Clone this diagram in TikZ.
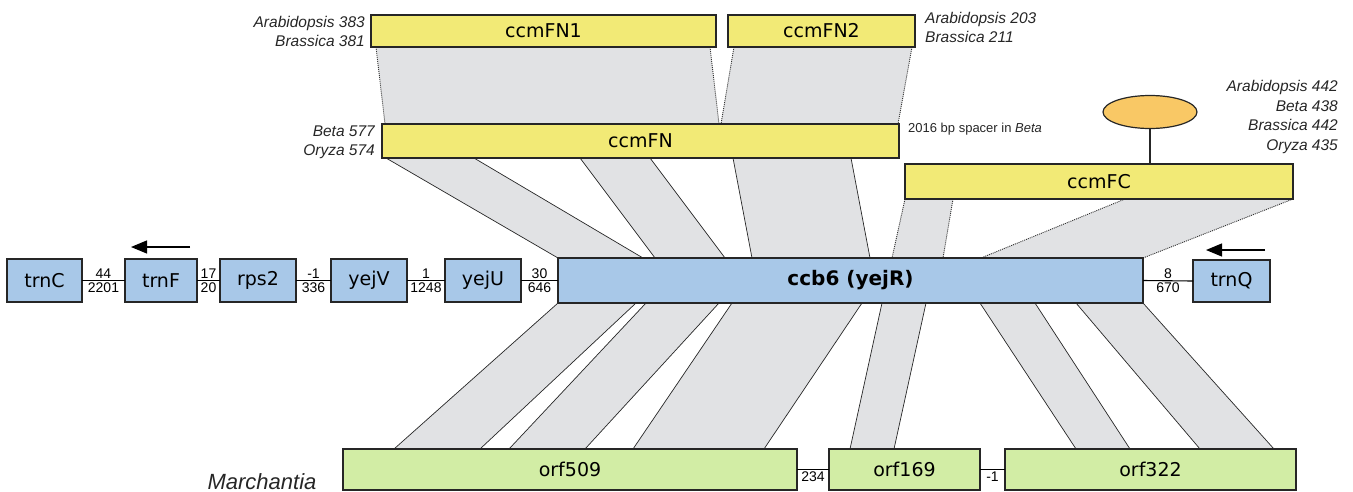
\documentclass[tikz,border=0pt]{standalone}
\usepackage{fontspec}
\setmainfont{Liberation Sans}
\newfontfamily\genefont{DejaVu Sans}
\usetikzlibrary{shapes.geometric,arrows.meta,backgrounds}
\definecolor{ycol}{HTML}{F2EA76}
\definecolor{bcol}{HTML}{A8C8E8}
\definecolor{gcol}{HTML}{D2EDA5}
\definecolor{ocol}{HTML}{F9C865}
\definecolor{bandcol}{HTML}{E1E2E4}
\tikzset{
  gene/.style={draw=black!85, line width=1.3pt, inner sep=0pt, outer sep=0pt,
    font=\genefont\fontsize{19}{22}\selectfont},
  ygene/.style={gene, fill=ycol},
  bgene/.style={gene, fill=bcol},
  ggene/.style={gene, fill=gcol},
  lbl/.style={font=\fontsize{15.5}{18}\selectfont\itshape, inner sep=0pt, text=black!85},
  num/.style={font=\fontsize{14}{16}\selectfont, inner sep=1.5pt},
  link/.style={line width=1.1pt, black},
  bandedge/.style={line width=0.7pt, black!85},
  dotedge/.style={line width=0.9pt, black!80, dash pattern=on 1pt off 1pt},
  arr/.style={line width=1.2pt, -{Triangle[length=16pt,width=13pt]}},
}
\newcommand\homol[7]{%
  \fill[bandcol] (#2,0 |- #1.south) -- (#3,0 |- #1.south) -- (#6,0 |- #4.north) -- (#5,0 |- #4.north) -- cycle;
  \draw[#7] (#2,0 |- #1.south) -- (#5,0 |- #4.north);
  \draw[#7] (#3,0 |- #1.south) -- (#6,0 |- #4.north);
}
\begin{document}
\begin{tikzpicture}[x=1pt,y=-1pt]
\useasboundingbox (0,0) rectangle (1353,491);

% top genes
\node[ygene, minimum width=345pt, minimum height=32pt] (ccmFN1) at (543.5,31) {ccmFN1};
\node[ygene, minimum width=187pt, minimum height=32pt] (ccmFN2) at (821.5,31) {ccmFN2};
\node[ygene, minimum width=517pt, minimum height=34pt] (ccmFN) at (640.5,141) {ccmFN};
\node[ygene, minimum width=388pt, minimum height=35pt] (ccmFC) at (1099,181.5) {ccmFC};
\node[ellipse, draw=black!85, line width=1.2pt, fill=ocol, minimum width=94pt, minimum height=33pt, inner sep=0pt, outer sep=0pt] (ell) at (1150,112) {};
\draw[line width=1.3pt, black!85] (ell.south) -- (ell.south |- ccmFC.north);

% middle row
\node[bgene, minimum width=75pt, minimum height=43pt] (trnC) at (44.5,280.5) {trnC};
\node[bgene, minimum width=72pt, minimum height=43pt] (trnF) at (161,280.5) {trnF};
\node[bgene, minimum width=76pt, minimum height=43pt] (rps2) at (258,280.5) {rps2};
\node[bgene, minimum width=76pt, minimum height=43pt] (yejV) at (369,280.5) {yejV};
\node[bgene, minimum width=76pt, minimum height=43pt] (yejU) at (483,280.5) {yejU};
\node[bgene, minimum width=585pt, minimum height=45pt, font=\genefont\bfseries\fontsize{20}{22}\selectfont] (ccb6) at (850.5,280.5) {ccb6 (yejR)};
\node[bgene, minimum width=77pt, minimum height=42pt] (trnQ) at (1231.5,281) {trnQ};

\draw[link] (trnC.east) -- node[num, above]{44} node[num, below]{2201} (trnF.west);
\draw[link] (trnF.east) -- node[num, above]{17} node[num, below]{20} (rps2.west);
\draw[link] (rps2.east) -- node[num, above]{-1} node[num, below]{336} (yejV.west);
\draw[link] (yejV.east) -- node[num, above]{1} node[num, below]{1248} (yejU.west);
\draw[link] (yejU.east) -- node[num, above]{30} node[num, below]{646} (ccb6.west);
\draw[link] (ccb6.east) -- node[num, above]{8} node[num, below]{670} (trnQ.west);

% arrows
\coordinate (aF1) at (190,247);
\coordinate (aF2) at (131,247);
\draw[arr] (aF1) -- (aF2);
\coordinate (aQ1) at (1265,250);
\coordinate (aQ2) at (1206,250);
\draw[arr] (aQ1) -- (aQ2);

% bottom row
\node[ggene, minimum width=454pt, minimum height=41pt] (orf509) at (570,469.5) {orf509};
\node[ggene, minimum width=151pt, minimum height=41pt] (orf169) at (904.5,469.5) {orf169};
\node[ggene, minimum width=291pt, minimum height=41pt] (orf322) at (1150.5,469.5) {orf322};
\draw[link] (orf509.east) -- node[num, below]{234} (orf169.west);
\draw[link] (orf169.east) -- node[num, below]{-1} (orf322.west);

% labels
\node[lbl, anchor=base east] (l1) at (365,27.5) {Arabidopsis 383};
\node[lbl, anchor=base east] (l2) at (365,46.5) {Brassica 381};
\node[lbl, anchor=base west] (l3) at (925,23.5) {Arabidopsis 203};
\node[lbl, anchor=base west] (l4) at (925,42.5) {Brassica 211};
\node[lbl, anchor=base east] (l5) at (375,136.5) {Beta 577};
\node[lbl, anchor=base east] (l6) at (375,155.5) {Oryza 574};
\node[inner sep=0pt, anchor=base west, font=\fontsize{13}{15}\selectfont, text=black!85] (l7) at (908,132.7) {2016 bp spacer in \textit{Beta}};
\node[lbl, anchor=base east] (l8) at (1338,91.5) {Arabidopsis 442};
\node[lbl, anchor=base east] (l9) at (1338,111.5) {Beta 438};
\node[lbl, anchor=base east] (l10) at (1338,130.5) {Brassica 442};
\node[lbl, anchor=base east] (l11) at (1338,150.5) {Oryza 435};
\node[lbl, anchor=base, font=\fontsize{22}{24}\selectfont\itshape] (l12) at (262,489) {Marchantia};

% homology bands
\begin{pgfonlayer}{background}
\homol{ccmFN1}{376}{710}{ccmFN}{385}{719}{dotedge}
\homol{ccmFN2}{734}{912}{ccmFN}{721}{898}{dotedge}
\homol{ccmFN}{386}{474}{ccb6}{558}{643}{bandedge}
\homol{ccmFN}{580}{650}{ccb6}{655}{725}{bandedge}
\homol{ccmFN}{733}{851}{ccb6}{752}{870}{bandedge}
\homol{ccmFC}{905}{953}{ccb6}{892}{943}{dotedge}
\homol{ccmFC}{1125}{1293}{ccb6}{981}{1143}{dotedge}
\homol{ccb6}{558}{636}{orf509}{394}{480}{bandedge}
\homol{ccb6}{646}{719}{orf509}{509}{585}{bandedge}
\homol{ccb6}{732}{862}{orf509}{633}{764}{bandedge}
\homol{ccb6}{882}{926}{orf169}{850}{894}{bandedge}
\homol{ccb6}{980}{1035}{orf322}{1076}{1130}{bandedge}
\homol{ccb6}{1076}{1143}{orf322}{1200}{1274}{bandedge}
\end{pgfonlayer}
\end{tikzpicture}
\end{document}
